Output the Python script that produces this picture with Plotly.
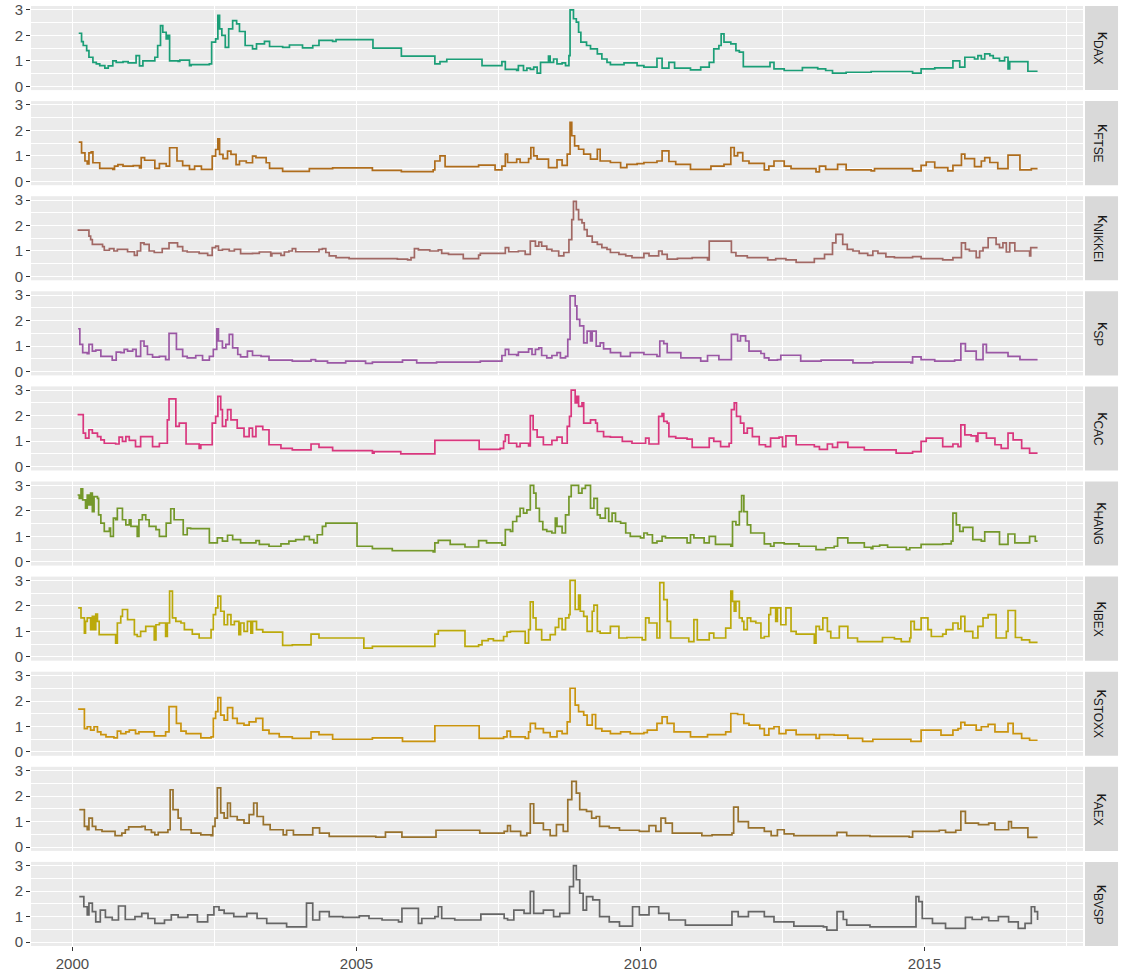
import plotly.graph_objects as go
from plotly.subplots import make_subplots

# Step series of the kappa estimate per index: (decimal year, kappa) at each change point
DAX = [(2000.11, 2.08), (2000.16, 1.75), (2000.19, 1.6), (2000.25, 1.4), (2000.29, 1.14), (2000.36, 0.94),
       (2000.42, 0.88), (2000.48, 0.81), (2000.57, 0.71), (2000.63, 0.8), (2000.71, 1.0), (2000.77, 0.94),
       (2000.89, 0.97), (2000.98, 0.92), (2001.12, 1.2), (2001.18, 0.8), (2001.24, 1.0), (2001.45, 1.14),
       (2001.50, 1.6), (2001.55, 2.38), (2001.59, 2.12), (2001.65, 1.86), (2001.68, 2.0), (2001.71, 1.0),
       (2001.86, 0.98), (2001.89, 1.03), (2002.06, 0.81), (2002.09, 0.85), (2002.41, 0.88), (2002.45, 1.73),
       (2002.52, 1.86), (2002.56, 2.78), (2002.59, 2.25), (2002.63, 2.0), (2002.69, 1.53), (2002.75, 2.25),
       (2002.82, 2.58), (2002.89, 2.45), (2002.94, 2.15), (2003.04, 1.6), (2003.17, 1.47), (2003.24, 1.66),
       (2003.38, 1.76), (2003.47, 1.56), (2003.70, 1.53), (2003.82, 1.62), (2004.05, 1.51), (2004.23, 1.6),
       (2004.34, 1.8), (2004.58, 1.76), (2004.64, 1.83), (2005.29, 1.5), (2005.79, 1.18), (2006.38, 0.88),
       (2006.47, 0.97), (2006.59, 1.06), (2007.21, 0.81), (2007.56, 0.97), (2007.62, 0.66), (2007.82, 0.62),
       (2007.85, 0.81), (2007.94, 0.62), (2008.00, 0.71), (2008.06, 0.66), (2008.12, 0.75), (2008.18, 0.52),
       (2008.24, 0.94), (2008.38, 1.18), (2008.41, 0.94), (2008.47, 1.07), (2008.53, 0.88), (2008.62, 0.92),
       (2008.68, 0.81), (2008.74, 1.2), (2008.76, 3.0), (2008.82, 2.65), (2008.87, 2.52), (2008.91, 2.12),
       (2008.95, 1.73), (2009.05, 1.6), (2009.12, 1.47), (2009.24, 1.27), (2009.32, 1.07), (2009.41, 0.94),
       (2009.47, 0.85), (2009.71, 0.92), (2009.94, 0.81), (2010.06, 0.75), (2010.29, 1.1), (2010.38, 0.71),
       (2010.50, 0.94), (2010.60, 0.71), (2010.88, 0.64), (2011.06, 0.75), (2011.21, 0.94), (2011.29, 1.47),
       (2011.38, 1.6), (2011.42, 2.06), (2011.47, 1.73), (2011.59, 1.66), (2011.68, 1.4), (2011.74, 1.34),
       (2011.81, 0.77), (2012.28, 0.94), (2012.35, 0.68), (2012.53, 0.62), (2012.85, 0.73), (2013.12, 0.68),
       (2013.26, 0.62), (2013.38, 0.52), (2013.62, 0.55), (2014.06, 0.58), (2014.79, 0.52), (2014.94, 0.68),
       (2015.18, 0.72), (2015.50, 1.0), (2015.62, 0.75), (2015.71, 1.14), (2015.88, 1.07), (2015.94, 1.2),
       (2016.00, 1.07), (2016.06, 1.27), (2016.15, 1.2), (2016.21, 1.1), (2016.32, 1.0), (2016.41, 1.14),
       (2016.47, 0.68), (2016.50, 0.97), (2016.82, 0.59), (2016.99, 0.59)]

FTSE = [(2000.11, 1.54), (2000.16, 1.12), (2000.22, 0.8), (2000.26, 0.69), (2000.29, 1.12), (2000.33, 1.16),
        (2000.36, 0.73), (2000.48, 0.51), (2000.71, 0.47), (2000.74, 0.6), (2000.80, 0.66), (2000.89, 0.6),
        (2001.07, 0.62), (2001.18, 0.53), (2001.21, 0.93), (2001.27, 0.83), (2001.45, 0.51), (2001.53, 0.7),
        (2001.65, 0.6), (2001.71, 1.32), (2001.84, 0.8), (2001.94, 0.62), (2002.06, 0.47), (2002.15, 0.6),
        (2002.27, 0.47), (2002.46, 0.99), (2002.52, 1.25), (2002.56, 1.67), (2002.59, 1.06), (2002.65, 0.89),
        (2002.73, 1.19), (2002.79, 1.06), (2002.88, 0.66), (2002.94, 0.8), (2003.06, 0.73), (2003.17, 0.99),
        (2003.23, 0.93), (2003.41, 0.73), (2003.47, 0.51), (2003.70, 0.39), (2004.17, 0.5), (2004.58, 0.53),
        (2005.28, 0.43), (2005.79, 0.38), (2006.35, 0.45), (2006.38, 0.8), (2006.47, 1.0), (2006.56, 0.58),
        (2007.15, 0.64), (2007.44, 0.45), (2007.56, 0.6), (2007.62, 1.07), (2007.66, 0.74), (2007.82, 0.87),
        (2007.88, 0.74), (2008.03, 0.89), (2008.07, 1.33), (2008.12, 1.0), (2008.18, 0.87), (2008.38, 0.54),
        (2008.53, 0.84), (2008.62, 0.63), (2008.71, 1.07), (2008.76, 2.32), (2008.79, 1.79), (2008.84, 1.39),
        (2008.91, 1.26), (2009.00, 1.07), (2009.12, 0.87), (2009.24, 1.26), (2009.29, 0.8), (2009.47, 0.74),
        (2009.65, 0.54), (2009.76, 0.67), (2009.94, 0.7), (2010.06, 0.74), (2010.29, 0.8), (2010.38, 1.2),
        (2010.50, 0.78), (2010.62, 0.67), (2010.88, 0.47), (2011.24, 0.6), (2011.47, 0.67), (2011.59, 1.33),
        (2011.65, 1.0), (2011.71, 1.13), (2011.80, 0.8), (2011.91, 0.71), (2012.18, 0.45), (2012.26, 0.6),
        (2012.35, 0.8), (2012.53, 0.6), (2012.65, 0.5), (2013.09, 0.37), (2013.15, 0.6), (2013.26, 0.47),
        (2013.47, 0.67), (2013.62, 0.45), (2014.06, 0.41), (2014.12, 0.5), (2014.79, 0.41), (2014.94, 0.63),
        (2015.03, 0.76), (2015.18, 0.54), (2015.41, 0.41), (2015.50, 0.63), (2015.65, 1.07), (2015.71, 0.89),
        (2015.88, 0.58), (2016.00, 0.8), (2016.06, 0.93), (2016.15, 0.74), (2016.29, 0.5), (2016.47, 1.03),
        (2016.68, 0.45), (2016.88, 0.5), (2016.99, 0.5)]

NIKKEI = [(2000.09, 1.82), (2000.29, 1.58), (2000.32, 1.45), (2000.35, 1.26), (2000.53, 1.17), (2000.56, 1.03),
          (2000.65, 1.09), (2000.73, 1.0), (2000.79, 1.06), (2000.97, 0.97), (2001.09, 0.83), (2001.14, 1.0),
          (2001.20, 1.32), (2001.26, 1.26), (2001.35, 1.0), (2001.44, 0.94), (2001.58, 1.09), (2001.70, 1.32),
          (2001.85, 1.17), (2001.94, 1.0), (2002.02, 0.96), (2002.23, 0.91), (2002.38, 0.83), (2002.46, 1.13),
          (2002.52, 1.19), (2002.57, 1.03), (2002.64, 1.06), (2002.76, 1.0), (2002.85, 1.06), (2002.96, 0.9),
          (2003.17, 0.91), (2003.29, 0.96), (2003.49, 0.81), (2003.51, 0.91), (2003.67, 0.83), (2003.73, 0.96),
          (2003.81, 1.0), (2003.87, 1.09), (2003.93, 0.97), (2004.34, 1.06), (2004.40, 1.09), (2004.46, 0.94),
          (2004.52, 0.81), (2004.64, 0.74), (2004.87, 0.7), (2005.72, 0.68), (2005.90, 0.65), (2005.96, 0.74),
          (2006.02, 1.09), (2006.09, 1.04), (2006.29, 1.0), (2006.44, 1.04), (2006.50, 0.91), (2006.62, 0.87),
          (2006.88, 0.7), (2007.15, 0.84), (2007.18, 0.91), (2007.62, 1.13), (2007.68, 0.97), (2007.85, 1.0),
          (2007.97, 0.87), (2008.06, 1.39), (2008.15, 1.19), (2008.21, 1.35), (2008.26, 1.19), (2008.35, 1.06),
          (2008.44, 1.0), (2008.56, 0.81), (2008.65, 0.94), (2008.74, 1.45), (2008.79, 2.23), (2008.82, 2.95),
          (2008.87, 2.62), (2008.91, 2.23), (2008.97, 2.1), (2009.01, 1.84), (2009.06, 1.58), (2009.15, 1.35),
          (2009.24, 1.26), (2009.32, 1.13), (2009.41, 1.06), (2009.47, 0.94), (2009.62, 0.87), (2009.74, 0.81),
          (2009.85, 0.74), (2010.06, 0.91), (2010.15, 0.81), (2010.32, 1.0), (2010.38, 0.87), (2010.47, 0.68),
          (2010.65, 0.71), (2010.91, 0.74), (2011.18, 0.65), (2011.21, 1.39), (2011.60, 0.94), (2011.68, 0.81),
          (2011.88, 0.74), (2012.24, 0.65), (2012.38, 0.7), (2012.56, 0.65), (2012.74, 0.55), (2013.06, 0.7),
          (2013.24, 0.87), (2013.38, 1.32), (2013.44, 1.65), (2013.56, 1.26), (2013.64, 1.06), (2013.74, 1.0),
          (2013.85, 0.91), (2014.00, 0.83), (2014.09, 1.0), (2014.18, 0.91), (2014.32, 0.77), (2014.47, 0.74),
          (2014.79, 0.78), (2014.94, 0.7), (2015.32, 0.65), (2015.50, 0.74), (2015.65, 1.32), (2015.72, 1.06),
          (2015.79, 1.0), (2015.91, 0.74), (2015.97, 1.0), (2016.03, 1.13), (2016.12, 1.52), (2016.26, 1.26),
          (2016.32, 1.13), (2016.38, 1.32), (2016.44, 0.96), (2016.50, 1.32), (2016.59, 1.0), (2016.85, 0.81),
          (2016.87, 1.13), (2016.99, 1.13)]

SP = [(2000.10, 1.68), (2000.13, 1.07), (2000.18, 0.74), (2000.26, 0.7), (2000.29, 1.07), (2000.35, 0.8),
      (2000.41, 0.84), (2000.50, 0.6), (2000.70, 0.45), (2000.77, 0.76), (2000.85, 0.74), (2000.91, 0.87),
      (2000.97, 0.8), (2001.06, 0.87), (2001.12, 0.6), (2001.20, 1.2), (2001.26, 1.0), (2001.32, 0.67),
      (2001.41, 0.57), (2001.53, 0.6), (2001.64, 0.47), (2001.70, 1.5), (2001.83, 0.87), (2001.94, 0.6),
      (2002.02, 0.54), (2002.17, 0.63), (2002.29, 0.45), (2002.41, 0.6), (2002.48, 0.87), (2002.54, 1.68),
      (2002.57, 1.2), (2002.64, 0.93), (2002.70, 1.07), (2002.76, 1.46), (2002.82, 0.93), (2002.91, 0.67),
      (2002.96, 0.58), (2003.08, 0.8), (2003.17, 0.63), (2003.32, 0.6), (2003.46, 0.45), (2003.87, 0.41),
      (2004.20, 0.47), (2004.28, 0.41), (2004.49, 0.34), (2004.81, 0.41), (2005.16, 0.32), (2005.28, 0.37),
      (2005.81, 0.45), (2006.06, 0.34), (2006.41, 0.37), (2007.18, 0.41), (2007.56, 0.63), (2007.62, 0.87),
      (2007.68, 0.67), (2007.82, 0.63), (2007.85, 0.76), (2008.03, 0.89), (2008.09, 0.67), (2008.15, 0.87),
      (2008.21, 0.93), (2008.26, 0.63), (2008.35, 0.54), (2008.44, 0.63), (2008.53, 0.74), (2008.59, 0.54),
      (2008.68, 0.6), (2008.72, 1.26), (2008.76, 2.97), (2008.85, 2.58), (2008.88, 2.05), (2008.93, 1.79),
      (2009.00, 1.13), (2009.06, 1.59), (2009.12, 1.2), (2009.15, 1.59), (2009.22, 1.0), (2009.29, 1.13),
      (2009.35, 0.89), (2009.47, 0.74), (2009.65, 0.6), (2009.82, 0.74), (2010.06, 0.67), (2010.29, 0.6),
      (2010.34, 1.2), (2010.41, 1.1), (2010.47, 0.74), (2010.71, 0.54), (2011.06, 0.41), (2011.18, 0.63),
      (2011.38, 0.47), (2011.60, 1.46), (2011.71, 1.2), (2011.76, 1.4), (2011.85, 1.2), (2011.91, 0.8),
      (2012.12, 0.71), (2012.18, 0.54), (2012.26, 0.45), (2012.41, 0.47), (2012.47, 0.64), (2012.82, 0.41),
      (2013.18, 0.45), (2013.74, 0.34), (2014.09, 0.37), (2014.76, 0.34), (2014.79, 0.58), (2014.94, 0.47),
      (2015.18, 0.41), (2015.53, 0.45), (2015.64, 1.1), (2015.72, 0.8), (2015.91, 0.47), (2016.03, 1.07),
      (2016.09, 0.74), (2016.47, 0.6), (2016.68, 0.47), (2016.99, 0.47)]

CAC = [(2000.09, 2.04), (2000.19, 1.32), (2000.23, 1.12), (2000.29, 1.45), (2000.35, 1.32), (2000.44, 1.18),
       (2000.50, 1.05), (2000.56, 0.92), (2000.76, 0.89), (2000.82, 1.16), (2000.88, 0.99), (2000.94, 1.18),
       (2001.00, 1.03), (2001.11, 0.79), (2001.20, 1.18), (2001.41, 0.79), (2001.53, 0.92), (2001.67, 1.84),
       (2001.70, 2.66), (2001.82, 1.58), (2001.88, 1.71), (2002.00, 0.89), (2002.23, 0.72), (2002.26, 0.86),
       (2002.46, 1.71), (2002.52, 1.97), (2002.56, 2.76), (2002.61, 2.24), (2002.64, 1.58), (2002.70, 1.84),
       (2002.73, 2.24), (2002.79, 1.84), (2002.90, 1.51), (2003.02, 1.18), (2003.11, 1.51), (2003.17, 1.18),
       (2003.23, 1.58), (2003.35, 1.45), (2003.46, 0.86), (2003.67, 0.72), (2003.87, 0.66), (2004.20, 0.89),
       (2004.34, 0.76), (2004.58, 0.63), (2005.28, 0.53), (2005.31, 0.59), (2005.78, 0.5), (2006.38, 1.03),
       (2007.16, 0.68), (2007.53, 0.72), (2007.59, 0.99), (2007.62, 1.25), (2007.68, 0.92), (2007.82, 0.79),
       (2007.88, 0.92), (2008.03, 0.82), (2008.06, 2.0), (2008.11, 1.45), (2008.18, 1.16), (2008.29, 0.86),
       (2008.44, 1.03), (2008.53, 1.16), (2008.62, 0.92), (2008.71, 1.58), (2008.75, 1.97), (2008.78, 3.0),
       (2008.85, 2.5), (2008.88, 2.76), (2008.91, 2.37), (2008.97, 2.5), (2009.00, 1.71), (2009.12, 1.84),
       (2009.21, 1.71), (2009.24, 1.38), (2009.35, 1.18), (2009.47, 1.16), (2009.68, 0.99), (2009.85, 0.92),
       (2010.09, 1.12), (2010.15, 0.89), (2010.32, 1.97), (2010.38, 2.08), (2010.41, 1.78), (2010.47, 1.71),
       (2010.50, 1.18), (2010.62, 1.12), (2010.82, 1.08), (2010.91, 0.76), (2011.21, 1.12), (2011.29, 0.99),
       (2011.41, 0.79), (2011.56, 0.92), (2011.60, 2.24), (2011.65, 2.5), (2011.69, 1.97), (2011.76, 1.71),
       (2011.82, 1.32), (2011.88, 1.51), (2011.97, 1.18), (2012.09, 0.86), (2012.20, 0.79), (2012.29, 1.12),
       (2012.44, 1.16), (2012.50, 0.79), (2012.56, 1.21), (2012.74, 0.86), (2013.06, 0.79), (2013.15, 0.68),
       (2013.29, 0.89), (2013.38, 0.76), (2013.47, 0.95), (2013.65, 0.76), (2013.94, 0.66), (2014.50, 0.53),
       (2014.79, 0.59), (2014.94, 0.99), (2015.03, 1.12), (2015.32, 0.79), (2015.50, 0.89), (2015.59, 0.79),
       (2015.64, 1.64), (2015.71, 1.25), (2015.82, 1.21), (2015.91, 0.99), (2015.94, 1.32), (2016.09, 1.12),
       (2016.24, 0.86), (2016.35, 0.72), (2016.47, 1.32), (2016.56, 1.05), (2016.71, 0.72), (2016.85, 0.53),
       (2016.99, 0.53)]

HANG = [(2000.09, 2.62), (2000.12, 2.49), (2000.15, 2.86), (2000.18, 2.43), (2000.23, 2.1), (2000.26, 2.62),
        (2000.29, 2.23), (2000.32, 2.69), (2000.35, 1.97), (2000.38, 2.56), (2000.44, 2.49), (2000.46, 1.84),
        (2000.50, 1.52), (2000.56, 1.19), (2000.65, 1.32), (2000.67, 1.0), (2000.72, 1.71), (2000.76, 1.65),
        (2000.79, 2.1), (2000.88, 1.65), (2000.94, 1.45), (2001.00, 1.65), (2001.03, 1.39), (2001.14, 1.0),
        (2001.17, 1.65), (2001.23, 1.84), (2001.29, 1.65), (2001.35, 1.39), (2001.47, 1.26), (2001.53, 1.0),
        (2001.65, 1.52), (2001.73, 2.08), (2001.79, 1.65), (2001.95, 1.06), (2002.02, 1.32), (2002.08, 1.3),
        (2002.41, 0.74), (2002.55, 0.94), (2002.64, 0.81), (2002.73, 1.04), (2002.82, 0.87), (2002.96, 0.74),
        (2003.23, 0.83), (2003.29, 0.68), (2003.46, 0.61), (2003.67, 0.7), (2003.81, 0.81), (2003.93, 0.87),
        (2004.08, 1.0), (2004.17, 0.87), (2004.25, 0.74), (2004.31, 1.06), (2004.40, 1.39), (2004.46, 1.52),
        (2005.01, 0.61), (2005.28, 0.52), (2005.63, 0.44), (2006.35, 0.39), (2006.38, 0.74), (2006.44, 0.84),
        (2006.65, 0.68), (2006.91, 0.58), (2007.15, 0.83), (2007.29, 0.74), (2007.56, 0.65), (2007.62, 1.26),
        (2007.71, 1.19), (2007.75, 1.58), (2007.82, 1.78), (2007.88, 2.1), (2007.94, 1.91), (2008.00, 2.04),
        (2008.06, 3.0), (2008.12, 2.69), (2008.16, 2.1), (2008.22, 1.58), (2008.28, 1.26), (2008.35, 1.19),
        (2008.44, 1.13), (2008.50, 1.71), (2008.53, 1.39), (2008.62, 1.13), (2008.68, 1.84), (2008.74, 2.56),
        (2008.78, 3.0), (2008.91, 2.69), (2008.97, 2.88), (2009.03, 3.0), (2009.12, 2.1), (2009.18, 2.49),
        (2009.24, 1.84), (2009.29, 1.71), (2009.38, 2.1), (2009.44, 1.58), (2009.50, 1.91), (2009.56, 1.58),
        (2009.65, 1.52), (2009.74, 1.13), (2009.82, 1.0), (2010.00, 0.94), (2010.06, 1.13), (2010.12, 1.06),
        (2010.21, 0.74), (2010.29, 0.81), (2010.38, 1.0), (2010.44, 0.94), (2010.82, 0.74), (2010.88, 1.06),
        (2010.94, 0.94), (2011.12, 0.74), (2011.21, 1.0), (2011.32, 0.68), (2011.59, 0.61), (2011.62, 1.58),
        (2011.68, 1.45), (2011.74, 1.97), (2011.78, 2.6), (2011.82, 1.97), (2011.88, 1.45), (2011.94, 1.13),
        (2012.18, 0.7), (2012.29, 0.61), (2012.35, 0.74), (2012.53, 0.7), (2012.79, 0.61), (2013.09, 0.48),
        (2013.26, 0.55), (2013.41, 0.61), (2013.47, 0.94), (2013.65, 0.74), (2013.94, 0.57), (2014.06, 0.52),
        (2014.09, 0.61), (2014.21, 0.65), (2014.35, 0.57), (2014.68, 0.48), (2014.74, 0.55), (2014.94, 0.68),
        (2015.32, 0.7), (2015.47, 0.81), (2015.50, 1.91), (2015.56, 1.45), (2015.62, 1.19), (2015.68, 1.35),
        (2015.85, 0.87), (2016.00, 0.81), (2016.06, 1.17), (2016.32, 0.68), (2016.47, 1.09), (2016.59, 0.74),
        (2016.85, 1.0), (2016.95, 0.81), (2016.99, 0.81)]

IBEX = [(2000.10, 1.92), (2000.15, 1.53), (2000.21, 0.93), (2000.23, 1.39), (2000.26, 1.53), (2000.32, 1.07),
        (2000.35, 1.59), (2000.38, 1.07), (2000.41, 1.68), (2000.44, 1.39), (2000.47, 0.87), (2000.76, 0.54),
        (2000.79, 1.33), (2000.85, 1.59), (2000.88, 1.86), (2000.97, 1.46), (2001.09, 0.87), (2001.14, 0.8),
        (2001.20, 1.0), (2001.29, 1.2), (2001.44, 0.67), (2001.47, 1.26), (2001.53, 1.33), (2001.64, 0.8),
        (2001.67, 1.33), (2001.71, 2.58), (2001.76, 1.53), (2001.82, 1.39), (2001.91, 1.33), (2001.97, 1.07),
        (2002.11, 0.89), (2002.23, 0.74), (2002.44, 1.07), (2002.48, 1.66), (2002.52, 1.92), (2002.56, 2.38),
        (2002.61, 1.79), (2002.67, 1.26), (2002.73, 1.66), (2002.79, 1.26), (2002.85, 1.39), (2002.93, 0.87),
        (2002.96, 1.33), (2003.02, 1.0), (2003.08, 1.39), (2003.14, 0.93), (2003.17, 1.39), (2003.24, 1.07),
        (2003.35, 0.97), (2003.70, 0.45), (2003.87, 0.47), (2004.20, 0.89), (2004.34, 0.74), (2005.13, 0.34),
        (2005.28, 0.41), (2006.38, 0.89), (2006.44, 1.03), (2006.91, 0.41), (2007.15, 0.47), (2007.21, 0.64),
        (2007.32, 0.71), (2007.41, 0.64), (2007.59, 0.8), (2007.65, 0.97), (2007.71, 1.0), (2007.97, 0.54),
        (2008.03, 1.07), (2008.06, 2.16), (2008.11, 1.53), (2008.16, 1.07), (2008.26, 0.67), (2008.41, 0.87),
        (2008.50, 1.16), (2008.56, 1.5), (2008.62, 1.07), (2008.68, 1.53), (2008.74, 1.66), (2008.76, 3.0),
        (2008.85, 1.86), (2008.91, 2.42), (2008.94, 1.79), (2009.00, 1.59), (2009.06, 1.0), (2009.15, 1.79),
        (2009.18, 2.03), (2009.24, 1.0), (2009.29, 0.93), (2009.47, 1.2), (2009.62, 0.74), (2009.76, 0.76),
        (2010.03, 0.67), (2010.09, 1.53), (2010.15, 1.33), (2010.29, 0.74), (2010.34, 2.91), (2010.41, 2.25),
        (2010.47, 1.39), (2010.53, 0.74), (2010.85, 0.6), (2010.94, 1.46), (2011.00, 0.67), (2011.21, 0.93),
        (2011.29, 0.74), (2011.50, 1.13), (2011.59, 2.58), (2011.62, 2.18), (2011.65, 1.79), (2011.68, 2.18),
        (2011.74, 1.53), (2011.79, 1.39), (2011.82, 1.07), (2011.88, 1.53), (2011.94, 1.39), (2012.03, 1.33),
        (2012.12, 0.74), (2012.18, 0.8), (2012.26, 1.66), (2012.29, 1.92), (2012.38, 1.39), (2012.41, 1.92),
        (2012.47, 1.26), (2012.56, 1.92), (2012.65, 1.0), (2012.74, 0.89), (2013.06, 0.54), (2013.09, 1.2),
        (2013.15, 1.07), (2013.21, 1.53), (2013.29, 1.0), (2013.35, 0.74), (2013.50, 1.2), (2013.65, 0.74),
        (2013.82, 0.6), (2014.26, 0.76), (2014.47, 0.71), (2014.59, 0.6), (2014.74, 0.74), (2014.76, 1.39),
        (2014.82, 1.07), (2014.94, 1.53), (2015.06, 1.07), (2015.12, 0.8), (2015.32, 0.89), (2015.38, 1.07),
        (2015.50, 1.33), (2015.59, 1.1), (2015.64, 1.59), (2015.71, 1.0), (2015.85, 0.74), (2015.94, 1.2),
        (2016.03, 1.53), (2016.12, 1.66), (2016.26, 0.74), (2016.44, 1.0), (2016.47, 1.82), (2016.60, 0.76),
        (2016.71, 0.67), (2016.85, 0.57), (2016.99, 0.57)]

STOXX = [(2000.10, 1.68), (2000.21, 0.92), (2000.26, 0.99), (2000.32, 0.86), (2000.38, 0.99), (2000.44, 0.79),
         (2000.50, 0.68), (2000.59, 0.59), (2000.73, 0.55), (2000.79, 0.82), (2000.85, 0.72), (2000.94, 0.79),
         (2001.00, 0.86), (2001.11, 0.72), (2001.17, 0.79), (2001.44, 0.63), (2001.64, 0.79), (2001.70, 1.78),
         (2001.83, 1.12), (2001.91, 0.82), (2002.00, 0.72), (2002.26, 0.55), (2002.44, 0.59), (2002.48, 1.32),
         (2002.52, 1.58), (2002.56, 2.13), (2002.61, 1.45), (2002.67, 1.25), (2002.73, 1.74), (2002.82, 1.32),
         (2002.90, 1.12), (2003.02, 1.05), (2003.11, 1.18), (2003.23, 1.32), (2003.35, 0.86), (2003.46, 0.72),
         (2003.64, 0.59), (2003.87, 0.53), (2004.20, 0.79), (2004.34, 0.68), (2004.58, 0.5), (2005.28, 0.55),
         (2005.81, 0.42), (2006.38, 1.03), (2007.16, 0.53), (2007.59, 0.59), (2007.65, 0.82), (2007.71, 0.59),
         (2007.97, 0.53), (2008.03, 0.79), (2008.06, 1.12), (2008.15, 0.92), (2008.29, 0.76), (2008.41, 0.59),
         (2008.53, 0.82), (2008.62, 0.72), (2008.71, 1.18), (2008.76, 2.5), (2008.85, 1.84), (2008.91, 1.58),
         (2009.00, 1.45), (2009.06, 1.05), (2009.15, 1.47), (2009.21, 0.92), (2009.32, 0.82), (2009.47, 0.72),
         (2009.65, 0.79), (2009.82, 0.72), (2010.06, 0.76), (2010.12, 0.86), (2010.29, 1.12), (2010.38, 1.38),
         (2010.47, 1.12), (2010.59, 0.79), (2010.88, 0.59), (2011.18, 0.68), (2011.50, 0.79), (2011.59, 1.51),
         (2011.71, 1.47), (2011.82, 1.12), (2011.91, 1.05), (2012.10, 0.92), (2012.18, 0.66), (2012.26, 0.92),
         (2012.35, 0.99), (2012.44, 0.72), (2012.56, 0.86), (2012.74, 0.68), (2013.09, 0.53), (2013.15, 0.68),
         (2013.41, 0.66), (2013.65, 0.53), (2013.91, 0.42), (2014.09, 0.5), (2014.76, 0.42), (2014.94, 0.86),
         (2015.29, 0.66), (2015.50, 0.86), (2015.59, 0.92), (2015.64, 1.16), (2015.71, 1.05), (2015.91, 0.86),
         (2016.00, 0.99), (2016.12, 1.08), (2016.24, 0.79), (2016.47, 1.12), (2016.56, 0.72), (2016.71, 0.53),
         (2016.85, 0.46), (2016.99, 0.46)]

AEX = [(2000.12, 1.47), (2000.21, 0.81), (2000.26, 0.68), (2000.29, 1.14), (2000.35, 0.81), (2000.41, 0.68),
       (2000.52, 0.62), (2000.75, 0.45), (2000.87, 0.55), (2000.93, 0.68), (2000.99, 0.79), (2001.22, 0.81),
       (2001.28, 0.68), (2001.39, 0.58), (2001.45, 0.48), (2001.51, 0.58), (2001.68, 0.68), (2001.72, 2.25),
       (2001.77, 1.47), (2001.86, 1.14), (2001.91, 0.68), (2002.09, 0.55), (2002.26, 0.48), (2002.44, 0.45),
       (2002.47, 0.81), (2002.51, 1.14), (2002.55, 2.32), (2002.61, 1.34), (2002.67, 1.14), (2002.73, 1.73),
       (2002.78, 1.2), (2002.90, 1.07), (2003.02, 0.94), (2003.11, 1.27), (2003.19, 1.73), (2003.25, 1.2),
       (2003.36, 0.88), (2003.48, 0.68), (2003.71, 0.48), (2003.77, 0.66), (2003.89, 0.48), (2004.23, 0.75),
       (2004.35, 0.55), (2004.52, 0.42), (2005.34, 0.39), (2005.51, 0.59), (2005.80, 0.39), (2006.40, 0.66),
       (2007.17, 0.55), (2007.60, 0.62), (2007.66, 0.84), (2007.71, 0.62), (2007.89, 0.45), (2008.00, 0.55),
       (2008.06, 1.7), (2008.12, 0.94), (2008.29, 0.68), (2008.41, 0.45), (2008.52, 0.88), (2008.64, 0.62),
       (2008.72, 1.86), (2008.79, 2.58), (2008.87, 2.12), (2008.93, 1.47), (2009.05, 1.4), (2009.14, 1.14),
       (2009.22, 1.2), (2009.28, 0.81), (2009.45, 0.75), (2009.63, 0.66), (2009.98, 0.62), (2010.15, 0.84),
       (2010.27, 0.62), (2010.36, 1.14), (2010.44, 0.94), (2010.56, 0.55), (2011.08, 0.45), (2011.26, 0.48),
       (2011.61, 0.55), (2011.64, 1.57), (2011.72, 1.0), (2011.90, 0.75), (2012.18, 0.62), (2012.30, 0.45),
       (2012.41, 0.68), (2012.53, 0.52), (2012.70, 0.45), (2013.46, 0.58), (2013.63, 0.45), (2014.04, 0.42),
       (2014.73, 0.39), (2014.79, 0.62), (2015.26, 0.66), (2015.37, 0.58), (2015.55, 0.66), (2015.64, 1.4),
       (2015.72, 0.94), (2015.95, 0.88), (2016.13, 0.94), (2016.24, 0.68), (2016.48, 1.0), (2016.53, 0.75),
       (2016.82, 0.38), (2016.99, 0.38)]

BVSP = [(2000.12, 1.79), (2000.20, 1.39), (2000.26, 1.07), (2000.29, 1.53), (2000.35, 1.2), (2000.41, 0.8),
        (2000.49, 1.26), (2000.58, 0.97), (2000.70, 0.87), (2000.81, 1.42), (2000.93, 0.89), (2001.10, 1.0),
        (2001.22, 1.13), (2001.33, 0.93), (2001.45, 0.74), (2001.62, 0.87), (2001.74, 1.07), (2001.86, 0.97),
        (2002.03, 1.07), (2002.20, 0.8), (2002.38, 1.07), (2002.49, 1.39), (2002.58, 1.26), (2002.67, 1.13),
        (2002.84, 1.0), (2003.07, 1.13), (2003.25, 0.93), (2003.42, 0.74), (2003.77, 0.6), (2004.12, 1.53),
        (2004.23, 0.87), (2004.35, 1.2), (2004.52, 1.0), (2004.76, 0.97), (2005.05, 1.03), (2005.22, 0.93),
        (2005.45, 0.87), (2005.74, 0.8), (2005.80, 1.33), (2006.09, 0.74), (2006.15, 0.93), (2006.38, 1.0),
        (2006.44, 1.39), (2006.50, 0.93), (2006.73, 0.87), (2007.19, 1.1), (2007.60, 0.93), (2007.66, 0.87),
        (2007.77, 1.26), (2007.95, 1.13), (2008.06, 1.99), (2008.12, 1.13), (2008.29, 1.26), (2008.47, 1.0),
        (2008.58, 1.13), (2008.75, 2.18), (2008.82, 3.0), (2008.87, 2.45), (2008.93, 1.92), (2008.99, 1.26),
        (2009.05, 1.79), (2009.16, 1.66), (2009.28, 1.0), (2009.45, 0.8), (2009.63, 0.63), (2009.86, 1.39),
        (2009.98, 1.07), (2010.15, 1.39), (2010.32, 1.13), (2010.50, 0.87), (2010.79, 0.67), (2011.61, 1.2),
        (2011.72, 1.0), (2011.90, 1.2), (2012.18, 1.0), (2012.35, 0.8), (2012.70, 0.63), (2013.22, 0.6),
        (2013.28, 0.47), (2013.46, 1.2), (2013.57, 0.89), (2013.63, 0.67), (2014.04, 0.6), (2014.85, 1.79),
        (2014.90, 1.59), (2014.96, 0.93), (2015.14, 0.74), (2015.37, 0.54), (2015.72, 0.97), (2015.84, 0.89),
        (2016.01, 0.97), (2016.13, 0.84), (2016.30, 1.0), (2016.48, 0.8), (2016.65, 0.54), (2016.77, 0.74),
        (2016.88, 1.39), (2016.94, 1.2), (2016.99, 0.87)]

INDEX_NAMES = ["DAX", "FTSE", "NIKKEI", "SP", "CAC", "HANG", "IBEX", "STOXX", "AEX", "BVSP"]
INDEX_SERIES = [DAX, FTSE, NIKKEI, SP, CAC, HANG, IBEX, STOXX, AEX, BVSP]
# Dark2 palette stretched to ten colours
LINE_COLORS = ["#1B9E77", "#AF6D1C", "#A16864", "#9B58A5", "#D9377E",
               "#74982A", "#BBA90B", "#CA940E", "#98722D", "#666666"]

YEAR_TICKS = [2000, 2005, 2010, 2015]
YEAR_MINOR = [2002.5, 2007.5, 2012.5, 2017.5]
KAPPA_TICKS = [0, 1, 2, 3]
KAPPA_MINOR = [0.5, 1.5, 2.5]

FONT = "Liberation Sans, Arial, Helvetica, sans-serif"
n = len(INDEX_NAMES)

fig = make_subplots(rows=n, cols=1, shared_xaxes=True, vertical_spacing=0.0117)

for i, (name, series, color) in enumerate(zip(INDEX_NAMES, INDEX_SERIES, LINE_COLORS)):
    years = [p[0] for p in series]
    kappa = [p[1] for p in series]
    fig.add_trace(
        go.Scatter(x=years, y=kappa, mode="lines",
                   line=dict(color=color, width=1.7, shape="hv"),
                   showlegend=False, hoverinfo="skip"),
        row=i + 1, col=1)

fig.update_xaxes(
    range=[1999.27, 2017.79], tickvals=YEAR_TICKS, showgrid=True,
    gridcolor="white", gridwidth=1.3, zeroline=False, showline=False,
    ticks="", showticklabels=False, automargin=False,
    minor=dict(tickvals=YEAR_MINOR, showgrid=True, gridcolor="white", gridwidth=0.6, ticks=""))
fig.update_xaxes(
    ticks="outside", ticklen=4, tickwidth=1.1, tickcolor="#333333",
    showticklabels=True, tickfont=dict(family=FONT, size=15, color="#4D4D4D"),
    row=n, col=1)

fig.update_yaxes(
    range=[-0.15, 3.15], tickvals=KAPPA_TICKS, showgrid=True,
    gridcolor="white", gridwidth=1.3, zeroline=False, showline=False,
    ticks="outside", ticklen=4, tickwidth=1.1, tickcolor="#333333",
    tickfont=dict(family=FONT, size=15, color="#4D4D4D"), automargin=False,
    minor=dict(tickvals=KAPPA_MINOR, showgrid=True, gridcolor="white", gridwidth=0.6, ticks=""))

# facet strips on the right with the index labels
for i, name in enumerate(INDEX_NAMES):
    ax = fig.layout["yaxis" if i == 0 else f"yaxis{i + 1}"]
    y0, y1 = ax.domain
    fig.add_shape(type="rect", xref="paper", yref="paper",
                  x0=1.0019, x1=1.0333, y0=y0, y1=y1,
                  fillcolor="#D9D9D9", line=dict(width=0), layer="below")
    fig.add_annotation(xref="paper", yref="paper", x=1.0176, y=(y0 + y1) / 2,
                       text=f"κ<sub>{name}</sub>", showarrow=False, textangle=90,
                       font=dict(family=FONT, size=17, color="#1A1A1A"),
                       xanchor="center", yanchor="middle")

fig.update_layout(
    width=1122, height=974,
    margin=dict(l=31, r=39, t=6, b=28),
    plot_bgcolor="#EBEBEB", paper_bgcolor="white",
    font=dict(family=FONT, color="#4D4D4D"),
)

fig.write_html("out.html")
